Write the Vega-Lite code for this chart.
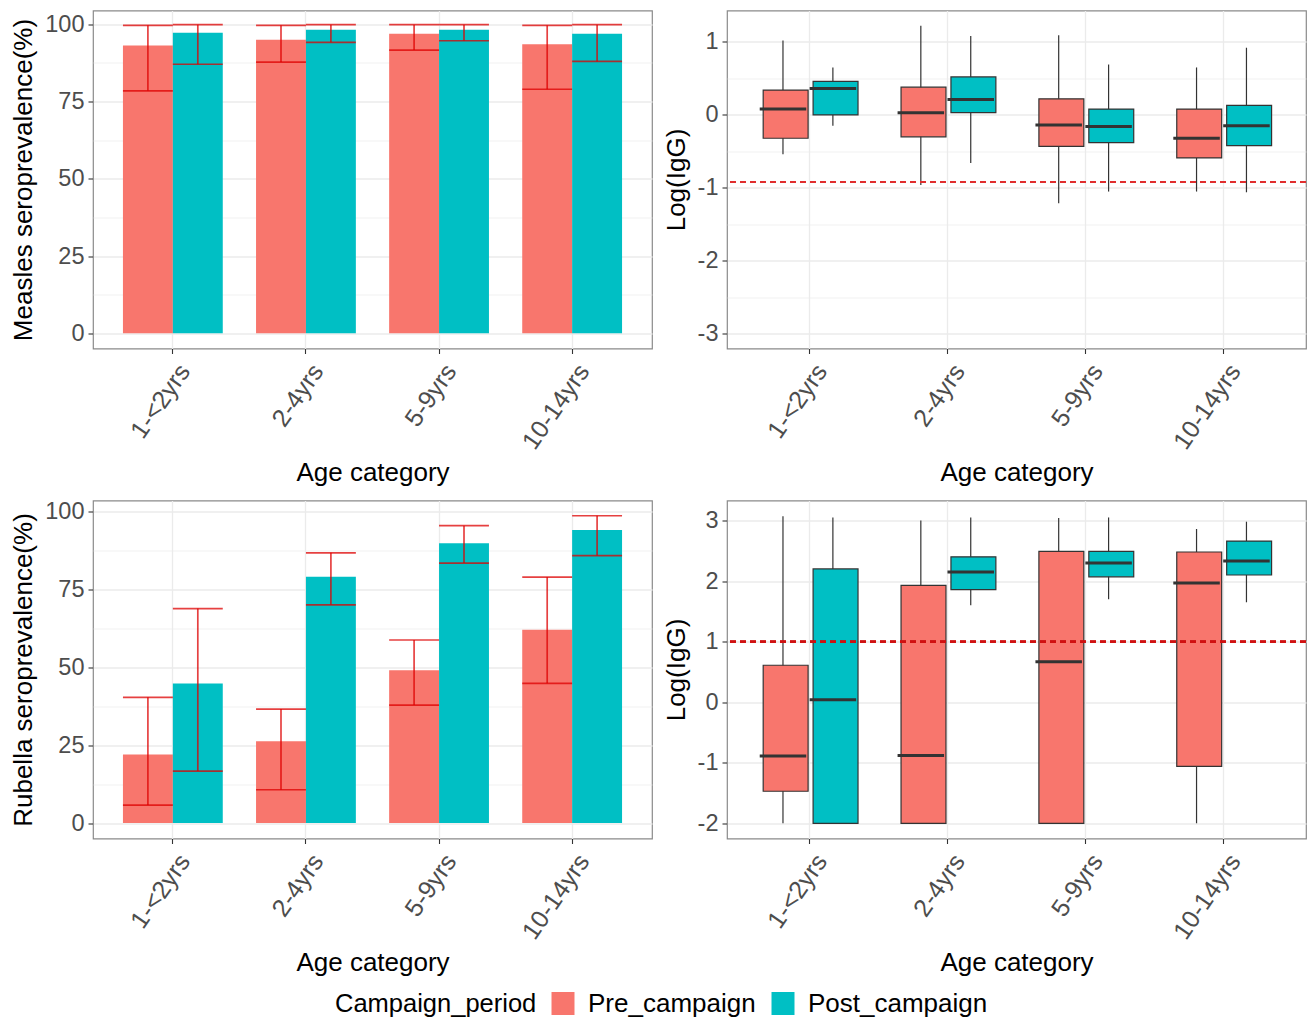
{
  "$schema": "https://vega.github.io/schema/vega-lite/v6.json",
  "background": "white",
  "autosize": {"type": "pad"},
  "padding": {"left": 10, "top": 9.5, "right": 1, "bottom": 4},
  "config": {
    "font": "Liberation Sans",
    "view": {"stroke": "#8a8a8a", "strokeWidth": 1.2},
    "axis": {
      "labelFont": "Liberation Sans",
      "titleFont": "Liberation Sans",
      "labelColor": "#4d4d4d",
      "titleColor": "#000000",
      "titleFontWeight": "normal",
      "labelFontSize": 23.5,
      "titleFontSize": 26,
      "domain": false,
      "tickColor": "#333333",
      "tickSize": 5,
      "tickWidth": 1.1,
      "grid": true,
      "gridColor": "#ebebeb",
      "gridWidth": 1.3,
      "labelPadding": 4,
      "titlePadding": 8
    },
    "axisX": {
      "labelAngle": -55,
      "labelAlign": "right",
      "labelBaseline": "top",
      "labelFontSize": 25,
      "labelPadding": 6,
      "labelOffset": 2,
      "titlePadding": 6
    },
    "legend": {
      "orient": "none",
      "legendX": 242,
      "legendY": 980,
      "direction": "horizontal",
      "titleOrient": "left",
      "titleFont": "Liberation Sans",
      "labelFont": "Liberation Sans",
      "titleFontSize": 25.5,
      "labelFontSize": 26,
      "titleFontWeight": "normal",
      "titleColor": "#000000",
      "labelColor": "#000000",
      "titleLimit": 500,
      "labelLimit": 500,
      "symbolType": "square",
      "symbolSize": 529,
      "symbolStrokeWidth": 0,
      "labelOffset": 12,
      "columnPadding": 14,
      "titlePadding": 13
    }
  },
  "datasets": {
    "measles_prev": [
      {"age": "1-<2yrs", "Campaign_period": "Pre_campaign", "pct": 93.2, "lo": 78.5, "hi": 99.7},
      {"age": "1-<2yrs", "Campaign_period": "Post_campaign", "pct": 97.3, "lo": 87.1, "hi": 99.9},
      {"age": "2-4yrs", "Campaign_period": "Pre_campaign", "pct": 95.0, "lo": 87.8, "hi": 99.7},
      {"age": "2-4yrs", "Campaign_period": "Post_campaign", "pct": 98.3, "lo": 94.2, "hi": 99.9},
      {"age": "5-9yrs", "Campaign_period": "Pre_campaign", "pct": 97.0, "lo": 91.7, "hi": 99.9},
      {"age": "5-9yrs", "Campaign_period": "Post_campaign", "pct": 98.3, "lo": 94.7, "hi": 99.9},
      {"age": "10-14yrs", "Campaign_period": "Pre_campaign", "pct": 93.6, "lo": 79.0, "hi": 99.7},
      {"age": "10-14yrs", "Campaign_period": "Post_campaign", "pct": 97.0, "lo": 88.0, "hi": 99.9}
    ],
    "rubella_prev": [
      {"age": "1-<2yrs", "Campaign_period": "Pre_campaign", "pct": 22.0, "lo": 5.8, "hi": 40.4},
      {"age": "1-<2yrs", "Campaign_period": "Post_campaign", "pct": 44.8, "lo": 16.7, "hi": 68.9},
      {"age": "2-4yrs", "Campaign_period": "Pre_campaign", "pct": 26.3, "lo": 10.7, "hi": 36.6},
      {"age": "2-4yrs", "Campaign_period": "Post_campaign", "pct": 79.1, "lo": 70.1, "hi": 86.8},
      {"age": "5-9yrs", "Campaign_period": "Pre_campaign", "pct": 49.1, "lo": 37.9, "hi": 58.8},
      {"age": "5-9yrs", "Campaign_period": "Post_campaign", "pct": 89.9, "lo": 83.5, "hi": 95.5},
      {"age": "10-14yrs", "Campaign_period": "Pre_campaign", "pct": 62.1, "lo": 44.9, "hi": 79.0},
      {"age": "10-14yrs", "Campaign_period": "Post_campaign", "pct": 94.1, "lo": 85.9, "hi": 98.7}
    ],
    "measles_igg": [
      {"age": "1-<2yrs", "Campaign_period": "Pre_campaign", "min": -0.54, "q1": -0.32, "median": 0.08, "q3": 0.34, "max": 1.02},
      {"age": "1-<2yrs", "Campaign_period": "Post_campaign", "min": -0.15, "q1": 0.0, "median": 0.36, "q3": 0.46, "max": 0.65},
      {"age": "2-4yrs", "Campaign_period": "Pre_campaign", "min": -0.96, "q1": -0.3, "median": 0.03, "q3": 0.38, "max": 1.22},
      {"age": "2-4yrs", "Campaign_period": "Post_campaign", "min": -0.66, "q1": 0.03, "median": 0.21, "q3": 0.52, "max": 1.08},
      {"age": "5-9yrs", "Campaign_period": "Pre_campaign", "min": -1.21, "q1": -0.43, "median": -0.14, "q3": 0.22, "max": 1.09},
      {"age": "5-9yrs", "Campaign_period": "Post_campaign", "min": -1.05, "q1": -0.38, "median": -0.16, "q3": 0.08, "max": 0.69},
      {"age": "10-14yrs", "Campaign_period": "Pre_campaign", "min": -1.05, "q1": -0.59, "median": -0.32, "q3": 0.08, "max": 0.65},
      {"age": "10-14yrs", "Campaign_period": "Post_campaign", "min": -1.06, "q1": -0.42, "median": -0.15, "q3": 0.13, "max": 0.92}
    ],
    "rubella_igg": [
      {"age": "1-<2yrs", "Campaign_period": "Pre_campaign", "min": -2.0, "q1": -1.47, "median": -0.89, "q3": 0.61, "max": 3.07},
      {"age": "1-<2yrs", "Campaign_period": "Post_campaign", "min": -2.0, "q1": -2.0, "median": 0.04, "q3": 2.2, "max": 3.05},
      {"age": "2-4yrs", "Campaign_period": "Pre_campaign", "min": -2.0, "q1": -2.0, "median": -0.88, "q3": 1.93, "max": 3.0},
      {"age": "2-4yrs", "Campaign_period": "Post_campaign", "min": 1.6, "q1": 1.86, "median": 2.15, "q3": 2.4, "max": 3.05},
      {"age": "5-9yrs", "Campaign_period": "Pre_campaign", "min": -2.0, "q1": -2.0, "median": 0.67, "q3": 2.49, "max": 3.04},
      {"age": "5-9yrs", "Campaign_period": "Post_campaign", "min": 1.7, "q1": 2.07, "median": 2.3, "q3": 2.49, "max": 3.05},
      {"age": "10-14yrs", "Campaign_period": "Pre_campaign", "min": -2.0, "q1": -1.06, "median": 1.97, "q3": 2.48, "max": 2.86},
      {"age": "10-14yrs", "Campaign_period": "Post_campaign", "min": 1.65, "q1": 2.1, "median": 2.33, "q3": 2.66, "max": 2.98}
    ]
  },
  "bounds": "flush",
  "columns": 2,
  "spacing": {"row": 152, "column": 75},
  "concat": [
    {
      "width": 559,
      "height": 338,
      "data": {"name": "measles_prev"},
      "encoding": {
        "x": {"field": "age", "type": "nominal", "sort": ["1-<2yrs", "2-4yrs", "5-9yrs", "10-14yrs"], "title": "Age category", "scale": {"paddingInner": 0.25, "paddingOuter": 0.225}},
        "xOffset": {"field": "Campaign_period", "type": "nominal", "sort": ["Pre_campaign", "Post_campaign"], "scale": {"paddingInner": 0, "paddingOuter": 0}}
      },
      "layer": [
        {
          "mark": {"type": "bar", "width": {"band": 1}},
          "encoding": {
            "y": {"field": "pct", "type": "quantitative", "title": "Measles seroprevalence(%)",
              "scale": {"domain": [-4.95, 104.5], "nice": false, "zero": false},
              "axis": {"values": [0, 12.5, 25, 37.5, 50, 62.5, 75, 87.5, 100],
                "labelExpr": "datum.value % 25 === 0 ? '' + datum.value : ''",
                "gridWidth": {"condition": {"test": "datum.value % 25 !== 0", "value": 0.7}, "value": 1.3},
                "tickOpacity": {"condition": {"test": "datum.value % 25 !== 0", "value": 0}, "value": 1}}},
            "fill": {"field": "Campaign_period", "type": "nominal", "title": "Campaign_period",
              "scale": {"domain": ["Pre_campaign", "Post_campaign"], "range": ["#F8766D", "#00BFC4"]}}
          }
        },
        {
          "mark": {"type": "rule", "color": "#dd0000", "strokeWidth": 1.7, "opacity": 0.75},
          "encoding": {"y": {"field": "lo", "type": "quantitative", "title": "Measles seroprevalence(%)"}, "y2": {"field": "hi"}}
        },
        {
          "mark": {"type": "tick", "orient": "horizontal", "size": 49.9, "thickness": 1.7, "color": "#dd0000", "opacity": 0.75},
          "encoding": {"y": {"field": "lo", "type": "quantitative", "title": "Measles seroprevalence(%)"}}
        },
        {
          "mark": {"type": "tick", "orient": "horizontal", "size": 49.9, "thickness": 1.7, "color": "#dd0000", "opacity": 0.75},
          "encoding": {"y": {"field": "hi", "type": "quantitative", "title": "Measles seroprevalence(%)"}}
        }
      ]
    },
    {
      "width": 579,
      "height": 338,
      "data": {"name": "measles_igg"},
      "layer": [
        {
          "mark": {"type": "rule", "color": "#333333", "strokeWidth": 1.2},
          "encoding": {
            "x": {"field": "age", "type": "nominal", "sort": ["1-<2yrs", "2-4yrs", "5-9yrs", "10-14yrs"], "title": "Age category", "scale": {"paddingInner": 0.25, "paddingOuter": 0.225}},
            "xOffset": {"field": "Campaign_period", "type": "nominal", "sort": ["Pre_campaign", "Post_campaign"], "scale": {"paddingInner": 0, "paddingOuter": 0}},
            "y": {"field": "min", "type": "quantitative", "title": "Log(IgG)",
              "scale": {"domain": [-3.2, 1.43], "nice": false, "zero": false},
              "axis": {"values": [-3, -2.5, -2, -1.5, -1, -0.5, 0, 0.5, 1],
                "labelExpr": "datum.value % 1 === 0 ? '' + datum.value : ''",
                "gridWidth": {"condition": {"test": "datum.value % 1 !== 0", "value": 0.7}, "value": 1.3},
                "tickOpacity": {"condition": {"test": "datum.value % 1 !== 0", "value": 0}, "value": 1}}},
            "y2": {"field": "max"}
          }
        },
        {
          "mark": {"type": "bar", "width": {"band": 0.9}, "stroke": "#333333", "strokeWidth": 1.2},
          "encoding": {
            "x": {"field": "age", "type": "nominal", "sort": ["1-<2yrs", "2-4yrs", "5-9yrs", "10-14yrs"], "title": "Age category"},
            "xOffset": {"field": "Campaign_period", "type": "nominal", "sort": ["Pre_campaign", "Post_campaign"]},
            "y": {"field": "q1", "type": "quantitative", "title": "Log(IgG)"},
            "y2": {"field": "q3"},
            "fill": {"field": "Campaign_period", "type": "nominal", "title": "Campaign_period",
              "scale": {"domain": ["Pre_campaign", "Post_campaign"], "range": ["#F8766D", "#00BFC4"]}}
          }
        },
        {
          "mark": {"type": "tick", "orient": "horizontal", "size": 46.5, "thickness": 3, "color": "#333333", "opacity": 1},
          "encoding": {
            "x": {"field": "age", "type": "nominal", "sort": ["1-<2yrs", "2-4yrs", "5-9yrs", "10-14yrs"], "title": "Age category"},
            "xOffset": {"field": "Campaign_period", "type": "nominal", "sort": ["Pre_campaign", "Post_campaign"]},
            "y": {"field": "median", "type": "quantitative", "title": "Log(IgG)"}
          }
        },
        {
          "mark": {"type": "rule", "color": "#e03030", "strokeWidth": 1.6, "strokeDash": [6, 4], "opacity": 0.8},
          "encoding": {"y": {"datum": -0.92, "type": "quantitative"}}
        }
      ]
    },
    {
      "width": 559,
      "height": 338,
      "data": {"name": "rubella_prev"},
      "encoding": {
        "x": {"field": "age", "type": "nominal", "sort": ["1-<2yrs", "2-4yrs", "5-9yrs", "10-14yrs"], "title": "Age category", "scale": {"paddingInner": 0.25, "paddingOuter": 0.225}},
        "xOffset": {"field": "Campaign_period", "type": "nominal", "sort": ["Pre_campaign", "Post_campaign"], "scale": {"paddingInner": 0, "paddingOuter": 0}}
      },
      "layer": [
        {
          "mark": {"type": "bar", "width": {"band": 1}},
          "encoding": {
            "y": {"field": "pct", "type": "quantitative", "title": "Rubella seroprevalence(%)",
              "scale": {"domain": [-4.95, 103.6], "nice": false, "zero": false},
              "axis": {"values": [0, 12.5, 25, 37.5, 50, 62.5, 75, 87.5, 100],
                "labelExpr": "datum.value % 25 === 0 ? '' + datum.value : ''",
                "gridWidth": {"condition": {"test": "datum.value % 25 !== 0", "value": 0.7}, "value": 1.3},
                "tickOpacity": {"condition": {"test": "datum.value % 25 !== 0", "value": 0}, "value": 1}}},
            "fill": {"field": "Campaign_period", "type": "nominal", "title": "Campaign_period",
              "scale": {"domain": ["Pre_campaign", "Post_campaign"], "range": ["#F8766D", "#00BFC4"]}}
          }
        },
        {
          "mark": {"type": "rule", "color": "#dd0000", "strokeWidth": 1.7, "opacity": 0.75},
          "encoding": {"y": {"field": "lo", "type": "quantitative", "title": "Rubella seroprevalence(%)"}, "y2": {"field": "hi"}}
        },
        {
          "mark": {"type": "tick", "orient": "horizontal", "size": 49.9, "thickness": 1.7, "color": "#dd0000", "opacity": 0.75},
          "encoding": {"y": {"field": "lo", "type": "quantitative", "title": "Rubella seroprevalence(%)"}}
        },
        {
          "mark": {"type": "tick", "orient": "horizontal", "size": 49.9, "thickness": 1.7, "color": "#dd0000", "opacity": 0.75},
          "encoding": {"y": {"field": "hi", "type": "quantitative", "title": "Rubella seroprevalence(%)"}}
        }
      ]
    },
    {
      "width": 579,
      "height": 338,
      "data": {"name": "rubella_igg"},
      "layer": [
        {
          "mark": {"type": "rule", "color": "#333333", "strokeWidth": 1.2},
          "encoding": {
            "x": {"field": "age", "type": "nominal", "sort": ["1-<2yrs", "2-4yrs", "5-9yrs", "10-14yrs"], "title": "Age category", "scale": {"paddingInner": 0.25, "paddingOuter": 0.225}},
            "xOffset": {"field": "Campaign_period", "type": "nominal", "sort": ["Pre_campaign", "Post_campaign"], "scale": {"paddingInner": 0, "paddingOuter": 0}},
            "y": {"field": "min", "type": "quantitative", "title": "Log(IgG)",
              "scale": {"domain": [-2.25, 3.33], "nice": false, "zero": false},
              "axis": {"values": [-2, -1.5, -1, -0.5, 0, 0.5, 1, 1.5, 2, 2.5, 3],
                "labelExpr": "datum.value % 1 === 0 ? '' + datum.value : ''",
                "gridWidth": {"condition": {"test": "datum.value % 1 !== 0", "value": 0.7}, "value": 1.3},
                "tickOpacity": {"condition": {"test": "datum.value % 1 !== 0", "value": 0}, "value": 1}}},
            "y2": {"field": "max"}
          }
        },
        {
          "mark": {"type": "bar", "width": {"band": 0.9}, "stroke": "#333333", "strokeWidth": 1.2},
          "encoding": {
            "x": {"field": "age", "type": "nominal", "sort": ["1-<2yrs", "2-4yrs", "5-9yrs", "10-14yrs"], "title": "Age category"},
            "xOffset": {"field": "Campaign_period", "type": "nominal", "sort": ["Pre_campaign", "Post_campaign"]},
            "y": {"field": "q1", "type": "quantitative", "title": "Log(IgG)"},
            "y2": {"field": "q3"},
            "fill": {"field": "Campaign_period", "type": "nominal", "title": "Campaign_period",
              "scale": {"domain": ["Pre_campaign", "Post_campaign"], "range": ["#F8766D", "#00BFC4"]}}
          }
        },
        {
          "mark": {"type": "tick", "orient": "horizontal", "size": 46.5, "thickness": 3, "color": "#333333", "opacity": 1},
          "encoding": {
            "x": {"field": "age", "type": "nominal", "sort": ["1-<2yrs", "2-4yrs", "5-9yrs", "10-14yrs"], "title": "Age category"},
            "xOffset": {"field": "Campaign_period", "type": "nominal", "sort": ["Pre_campaign", "Post_campaign"]},
            "y": {"field": "median", "type": "quantitative", "title": "Log(IgG)"}
          }
        },
        {
          "mark": {"type": "rule", "color": "#d01010", "strokeWidth": 1.6, "strokeDash": [6, 4], "opacity": 0.85},
          "encoding": {"y": {"datum": 1, "type": "quantitative"}}
        }
      ]
    }
  ]
}
